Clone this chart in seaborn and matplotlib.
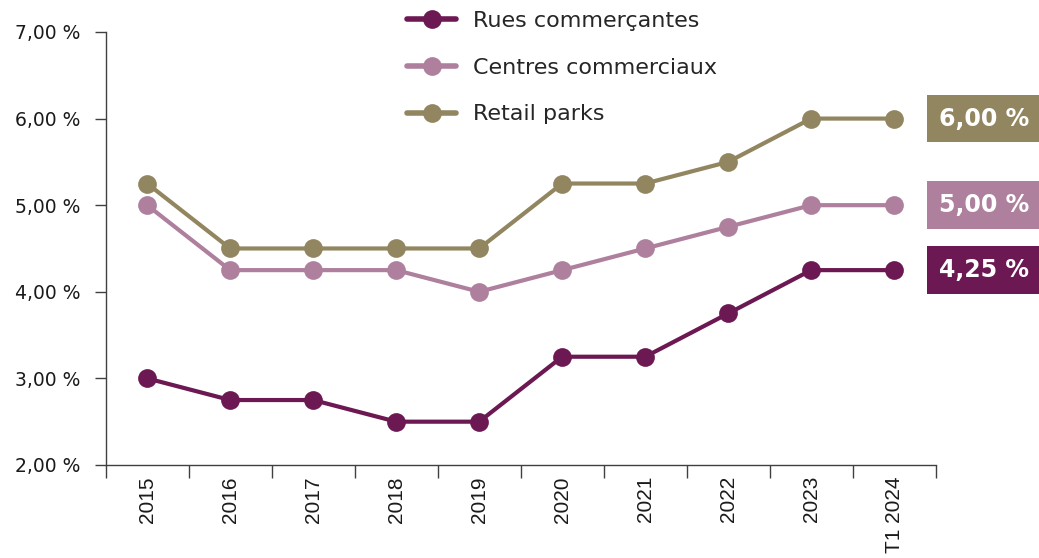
import matplotlib
matplotlib.use("Agg")
import matplotlib.pyplot as plt
import seaborn as sns
import pandas as pd
from matplotlib.ticker import FixedLocator, FuncFormatter
from matplotlib.lines import Line2D

# Taux de rendement par type d'actif commerce
annees = ["2015", "2016", "2017", "2018", "2019", "2020", "2021", "2022", "2023", "T1 2024"]
rues_commercantes = [3.00, 2.75, 2.75, 2.50, 2.50, 3.25, 3.25, 3.75, 4.25, 4.25]
centres_commerciaux = [5.00, 4.25, 4.25, 4.25, 4.00, 4.25, 4.50, 4.75, 5.00, 5.00]
retail_parks = [5.25, 4.50, 4.50, 4.50, 4.50, 5.25, 5.25, 5.50, 6.00, 6.00]

series = {
    "Rues commerçantes": rues_commercantes,
    "Centres commerciaux": centres_commerciaux,
    "Retail parks": retail_parks,
}
couleurs = {
    "Rues commerçantes": "#6c1852",
    "Centres commerciaux": "#ae809e",
    "Retail parks": "#928660",
}

df = pd.concat(
    [pd.DataFrame({"annee": annees, "pos": range(len(annees)), "taux": v, "serie": nom})
     for nom, v in series.items()],
    ignore_index=True,
)

sns.set_style("white")
plt.rcParams["font.family"] = ["DejaVu Sans"]

fig = plt.figure(figsize=(10.39, 5.58), dpi=100)
ax = fig.add_axes([0.1017, 0.1667, 0.7989, 0.7760])

sns.lineplot(
    data=df, x="pos", y="taux", hue="serie", palette=couleurs,
    hue_order=list(series.keys()), marker="o", markersize=13.5,
    markeredgewidth=0, linewidth=3, sort=False, ax=ax, legend=False,
)

ax.set_xlim(-0.5, len(annees) - 0.5)
ax.set_ylim(2, 7)
ax.set_xlabel("")
ax.set_ylabel("")

# Axe Y
ax.yaxis.set_major_locator(FixedLocator([2, 3, 4, 5, 6, 7]))
ax.yaxis.set_major_formatter(FuncFormatter(lambda v, _: f"{v:.2f} %".replace(".", ",")))
ax.tick_params(axis="y", which="major", left=True, length=8, width=1, color="#404040",
               labelsize=13.5, labelcolor="#1a1a1a", pad=10)

# Axe X : libellés centrés, graduations entre catégories
ax.set_xticks(range(len(annees)))
ax.set_xticklabels(annees, rotation=90, fontsize=15, family="Liberation Sans", color="#1a1a1a")
ax.tick_params(axis="x", which="major", bottom=False, length=0, pad=8)
ax.xaxis.set_minor_locator(FixedLocator([i - 0.5 for i in range(len(annees) + 1)]))
ax.tick_params(axis="x", which="minor", bottom=True, length=9, width=1, color="#404040")

for s in ["top", "right"]:
    ax.spines[s].set_visible(False)
for s in ["left", "bottom"]:
    ax.spines[s].set_color("#404040")
    ax.spines[s].set_linewidth(1)

# Étiquettes de la dernière valeur
for nom, v in series.items():
    ax.text(9.54, v[-1], f"{v[-1]:.2f} %".replace(".", ","), ha="left", va="center",
            fontsize=17, fontweight="bold", color="white", clip_on=False,
            bbox=dict(boxstyle="square,pad=0.5", fc=couleurs[nom], ec="none"))

# Légende
handles = [Line2D([], [], color=couleurs[n], lw=4, marker="o", markersize=13.5,
                  markeredgewidth=0, solid_capstyle="round") for n in series]
fig.legend(handles, list(series.keys()), loc="upper left",
           bbox_to_anchor=(0.377, 1.008), frameon=False, fontsize=16,
           handlelength=2.2, handletextpad=0.75, labelspacing=1.2, borderpad=0.2)

fig.savefig("out.png", dpi=100)
